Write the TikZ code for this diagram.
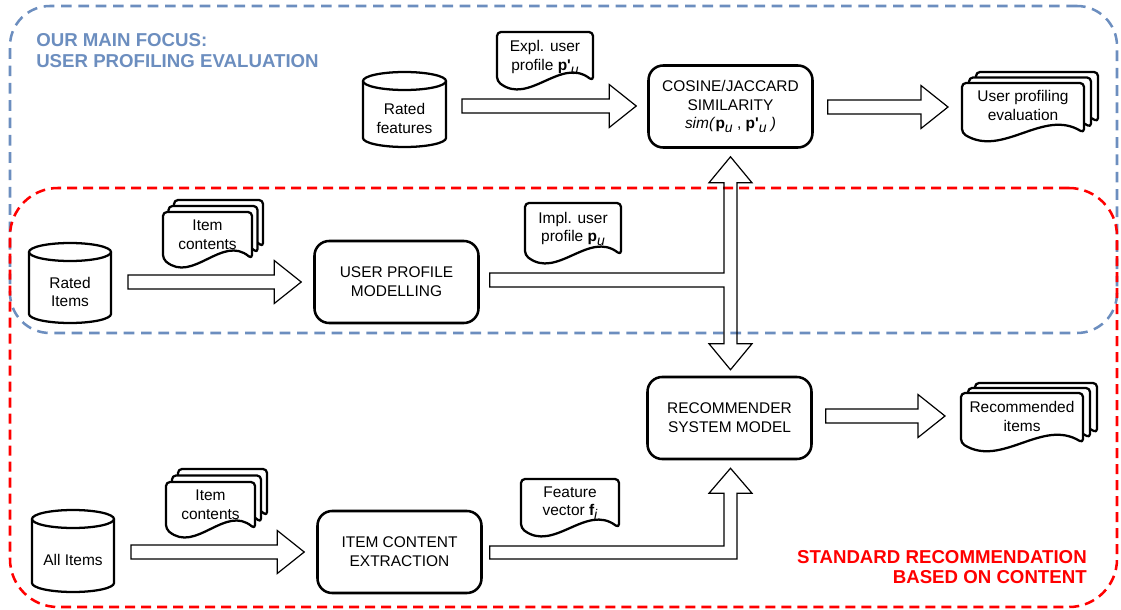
\documentclass[tikz,border=0pt]{standalone}
\usepackage{fontspec}
\setmainfont{Liberation Sans}
\usetikzlibrary{calc}
\definecolor{focusblue}{HTML}{6C8EBF}
\definecolor{stdred}{HTML}{FF0000}
\newcommand{\usub}[1]{\raisebox{-0.45ex}{\fontsize{10.5}{10.5}\selectfont\itshape #1}}
% document shape: x0, y0, x1, yb
\newcommand{\docshape}[4]{%
 \pgfmathsetmacro{\mxa}{#1}\pgfmathsetmacro{\mya}{#2}\pgfmathsetmacro{\mxb}{#3}\pgfmathsetmacro{\myb}{#4}%
 \pgfmathsetmacro{\mxm}{(\mxa+\mxb)/2}\pgfmathsetmacro{\mca}{\mxb-(\mxb-\mxa)/3}\pgfmathsetmacro{\mcb}{\mxa+(\mxb-\mxa)/3}%
 \pgfmathsetmacro{\myu}{\myb-25}\pgfmathsetmacro{\myd}{\myb+25}%
 \draw[docline] (\mxm,\mya) -- (\mxb,\mya) -- (\mxb,\myb) .. controls (\mca,\myu) and (\mcb,\myd) .. (\mxa,\myb) -- (\mxa,\mya) -- cycle;}
% multi document: x0, y0, x1, yb, dx, dy(up)
\newcommand{\multidoc}[6]{%
 \docshape{#1+2*#5}{#2-2*#6}{#3+2*#5}{#4-2*#6}%
 \docshape{#1+#5}{#2-#6}{#3+#5}{#4-#6}%
 \docshape{#1}{#2}{#3}{#4}}
% cylinder: name, cx, cy, w, h, text
\newcommand{\cylnode}[6]{%
 \pgfmathsetmacro{\cxa}{#2-#4/2}\pgfmathsetmacro{\cxb}{#2+#4/2}%
 \pgfmathsetmacro{\cya}{#3-#5/2+9}\pgfmathsetmacro{\cyb}{#3+#5/2-9}%
 \pgfmathsetmacro{\crx}{#4/2}%
 \node[hitbox, minimum width=#4*0.75pt, minimum height=#5*0.75pt] (#1) at (#2,#3) {};
 \draw[docline, sharp corners] (\cxa,\cya) -- (\cxa,\cyb) arc[start angle=180, end angle=0, x radius=\crx, y radius=9] -- (\cxb,\cya) arc[start angle=0, end angle=-180, x radius=\crx, y radius=9] -- cycle;
 \draw[docline, sharp corners, fill=none] (\cxa,\cya) arc[start angle=180, end angle=0, x radius=\crx, y radius=9];
 \node[txt] (#1-t) at (#2,#3+9) {#6};}
% horizontal block arrow: start coordinate, tip coordinate
\newcommand{\harrow}[2]{%
 \coordinate (#2-t) at (#2 |- #1);
 \draw[blockarrow] ($(#1)+(0,-7)$) -- ($(#2-t)+(-27,-7)$) -- ($(#2-t)+(-27,-21.5)$) -- (#2-t) -- ($(#2-t)+(-27,21.5)$) -- ($(#2-t)+(-27,7)$) -- ($(#1)+(0,7)$) -- cycle;}

\begin{document}
\begin{tikzpicture}[x=0.75pt,y=-0.75pt,
  txt/.style={font=\fontsize{11.6}{13.9}\selectfont, align=center, inner sep=0pt},
  hitbox/.style={inner sep=0pt, outer sep=0pt, draw=none},
  procbox/.style={draw, fill=white, line width=1.9pt, rounded corners=11pt, align=center,
     font=\fontsize{11.6}{14}\selectfont, minimum width=123pt, minimum height=61.5pt, inner sep=0pt},
  docline/.style={line width=1.7pt, fill=white, draw=black, rounded corners=3pt, line join=round},
  blockarrow/.style={draw=black, line width=0.9pt, line join=miter},
  focusbox/.style={draw=focusblue, line width=1.9pt, dash pattern=on 8pt off 5pt, rounded corners=30pt, inner sep=0pt},
  stdbox/.style={draw=stdred, line width=1.9pt, dash pattern=on 7.5pt off 4.5pt, rounded corners=36pt, inner sep=0pt},
  titleblue/.style={text=focusblue, font=\fontsize{14}{16}\selectfont\bfseries, inner sep=0pt},
  titlered/.style={text=stdred, font=\fontsize{14}{16}\selectfont\bfseries, inner sep=0pt}
]
\useasboundingbox (0,0) rectangle (1121,610);

% group frames
\node[focusbox, minimum width=830.25pt, minimum height=245.25pt] (focus) at (563.5,169.5) {};
\node[stdbox, minimum width=830.25pt, minimum height=314.25pt] (std) at (563.5,397.5) {};

\node[titleblue, anchor=base west] (ft1) at (36,47) {OUR MAIN FOCUS:};
\node[titleblue, anchor=base west] (ft2) at (36,68) {USER PROFILING EVALUATION};
\node[titlered, anchor=base east] (st1) at (1087,563) {STANDARD RECOMMENDATION};
\node[titlered, anchor=base east] (st2) at (1087,583) {BASED ON CONTENT};

% process boxes
\node[procbox] (cos) at (730.5,106.5) {COSINE/JACCARD\\SIMILARITY\\{\itshape sim(}\textbf{p}\usub{u} , \textbf{p\textquotesingle}\usub{u}{\itshape\ )}};
\node[procbox] (upm) at (396.5,282) {USER PROFILE\\MODELLING};
\node[procbox] (rec) at (729.5,418) {RECOMMENDER\\SYSTEM MODEL};
\node[procbox] (ice) at (399.5,552) {ITEM CONTENT\\EXTRACTION};

% cylinders
\cylnode{ratedf}{404.5}{109.5}{83}{75}{Rated\\features}
\cylnode{rateditems}{70}{283}{82}{80}{Rated\\Items}
\cylnode{allitems}{73}{551}{82}{82}{All Items}

% single documents
\docshape{497}{32}{593}{81}
\node[txt] (expl) at (545,57.5) {Expl. user\\profile \textbf{p\textquotesingle}\usub{u}};
\docshape{525}{203}{621}{255}
\node[txt] (impl) at (573,229) {Impl. user\\profile \textbf{p}\usub{u}};
\docshape{521}{479}{619}{528}
\node[txt] (feat) at (570,503) {Feature\\vector \textbf{f}\usub{i}};

% multi documents
\multidoc{163}{212}{252}{259}{5.5}{6}
\node[txt] (ic1) at (207.5,234.5) {Item\\contents};
\multidoc{166}{482}{255}{529}{6}{6.5}
\node[txt] (ic2) at (210.5,504.5) {Item\\contents};
\multidoc{962}{83}{1084}{133}{7}{5.5}
\node[hitbox, minimum width=91.5pt, minimum height=37.5pt] (upe) at (1023,108) {};
\node[txt] (upe-t) at (1023,105.5) {User profiling\\evaluation};
\multidoc{961}{393}{1083}{443}{7}{5}
\node[hitbox, minimum width=91.5pt, minimum height=37.5pt] (recout) at (1022,418) {};
\node[txt] (recout-t) at (1022,416.5) {Recommended\\items};

% straight block arrows
\coordinate (a1s) at ($(ratedf.east)+(16,-3.5)$);
\coordinate (a1e) at ($(cos.west)+(-11,0)$);
\harrow{a1s}{a1e}
\coordinate (a2s) at ($(cos.east)+(14,0.5)$);
\coordinate (a2e) at ($(upe.west)+(-14,0)$);
\harrow{a2s}{a2e}
\coordinate (a3s) at ($(rateditems.east)+(17,-1)$);
\coordinate (a3e) at ($(upm.west)+(-12,0)$);
\harrow{a3s}{a3e}
\coordinate (a4s) at ($(allitems.east)+(17,1)$);
\coordinate (a4e) at ($(ice.west)+(-12,0)$);
\harrow{a4s}{a4e}
\coordinate (a5s) at ($(rec.east)+(13,-2)$);
\coordinate (a5e) at ($(recout.west)+(-16,0)$);
\harrow{a5s}{a5e}

% T-shaped double arrow: user profile -> similarity and recommender
\coordinate (dt) at ($(cos.south)+(0,8)$);
\coordinate (db0) at ($(rec.north)+(0,-6)$);
\coordinate (db) at (dt |- db0);
\coordinate (bs) at ($(upm.east)+(10,-2)$);
\coordinate (bj) at (dt |- bs);
\draw[blockarrow] ($(bs)+(0,-7)$) -- ($(bj)+(-6.5,-7)$) -- ($(dt)+(-6.5,26)$) -- ($(dt)+(-21.5,26)$) -- (dt)
  -- ($(dt)+(21.5,26)$) -- ($(dt)+(6.5,26)$) -- ($(db)+(6.5,-26)$) -- ($(db)+(21.5,-26)$) -- (db)
  -- ($(db)+(-21.5,-26)$) -- ($(db)+(-6.5,-26)$) -- ($(bj)+(-6.5,7)$) -- ($(bs)+(0,7)$) -- cycle;

% L-shaped arrow: item content extraction -> recommender
\coordinate (lt0) at ($(rec.south)+(0,8)$);
\coordinate (lt) at (dt |- lt0);
\coordinate (ls) at ($(ice.east)+(7,0.5)$);
\coordinate (lj) at (lt |- ls);
\draw[blockarrow] ($(ls)+(0,-6.5)$) -- ($(lj)+(-6.5,-6.5)$) -- ($(lt)+(-6.5,25)$) -- ($(lt)+(-21.5,25)$) -- (lt)
  -- ($(lt)+(21.5,25)$) -- ($(lt)+(6.5,25)$) -- ($(lj)+(6.5,6.5)$) -- ($(ls)+(0,6.5)$) -- cycle;
\end{tikzpicture}
\end{document}
